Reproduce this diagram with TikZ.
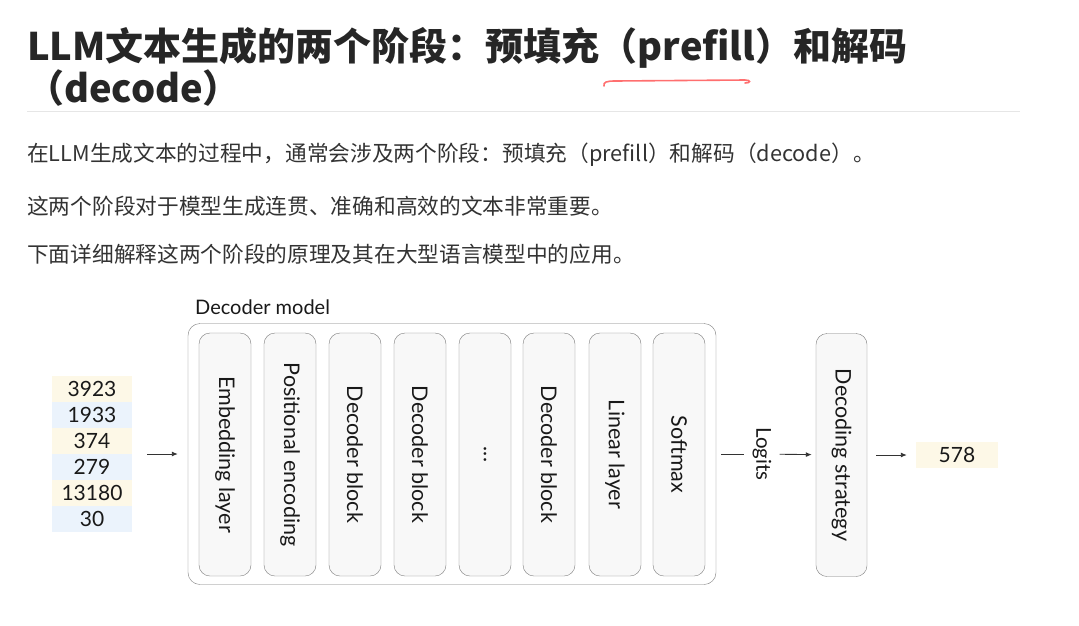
\documentclass[tikz,border=0pt]{standalone}
\usepackage{fontspec}
\newfontfamily\cjk{Noto Sans CJK SC}
\newfontfamily\gill{Lato}
\usetikzlibrary{positioning,arrows.meta}

\definecolor{tokyellow}{HTML}{FDF8E7}
\definecolor{tokblue}{HTML}{EBF3FC}
\definecolor{layerfill}{HTML}{F8F8F8}
\definecolor{edgegray}{HTML}{7C7C7C}
\definecolor{textgray}{HTML}{333333}
\definecolor{rulegray}{HTML}{E6E6E6}

\tikzset{
  heading/.style={anchor=base west, inner sep=0pt, text=black!85, font=\cjk\bfseries\fontsize{38}{42}\selectfont},
  para/.style={anchor=base west, inner sep=0pt, text=textgray, font=\cjk\fontsize{21.7}{26}\selectfont},
  layer/.style={draw=edgegray, fill=layerfill, rotate=-90, rounded corners=11pt,
    minimum width=243pt, minimum height=52pt, inner sep=0pt, text=black!90,
    font=\gill\fontsize{21.5}{24}\selectfont},
  token/.style={minimum width=80pt, minimum height=26pt, inner sep=0pt, text=black!90,
    font=\gill\fontsize{21}{24}\selectfont},
  flow/.style={-{Latex[length=6pt,width=5pt]}, black!80, line width=0.9pt}
}

\begin{document}
\begin{tikzpicture}[x=1pt,y=-1pt]
  \useasboundingbox[fill=white] (0,0) rectangle (1079,625);

  % heading and text
  \node[heading] (title1) at (27,60) {LLM文本生成的两个阶段：预填充（prefill）和解码};
  \node[heading] (title2) at (26,102) {（decode）};
  \draw[rulegray, line width=1pt] (27,111) -- (1020,111);
  \draw[red!75, line width=1.6pt, opacity=0.75, line cap=round]
    (604,86) .. controls (603,82) and (607,81) .. (615,81) -- (745,80) .. controls (751,80) and (751,83) .. (745,83);

  \node[para] (p1) at (27,161) {在LLM生成文本的过程中，通常会涉及两个阶段：预填充（prefill）和解码（decode）。};
  \node[para] (p2) at (27,214) {这两个阶段对于模型生成连贯、准确和高效的文本非常重要。};
  \node[para] (p3) at (27,262) {下面详细解释这两个阶段的原理及其在大型语言模型中的应用。};

  % input tokens
  \foreach \val/\bg [count=\i] in {3923/tokyellow,1933/tokblue,374/tokyellow,279/tokblue,13180/tokyellow,30/tokblue}
    \node[token, fill=\bg] (t\i) at (92,363+26*\i) {\val};
  \coordinate (tokens) at (132,454);

  % decoder model
  \node[anchor=base west, inner sep=0pt, text=black!90, font=\gill\fontsize{20}{23}\selectfont] (modellabel) at (195,314) {Decoder model};
  \node[draw=edgegray, rounded corners=12pt, minimum width=528pt, minimum height=261pt, inner sep=0pt] (model) at (452,454) {};

  \node[layer] (embed) at (225,454.5) {Embedding layer};
  \node[layer] (posenc) at (290,454.5) {Positional encoding};
  \node[layer] (dec1) at (355,454.5) {Decoder block};
  \node[layer] (dec2) at (420,454.5) {Decoder block};
  \node[layer] (dots) at (485,454.5) {...};
  \node[layer] (decn) at (549,454.5) {Decoder block};
  \node[layer] (linear) at (615,454.5) {Linear layer};
  \node[layer] (softmax) at (679,454.5) {Softmax};

  % decoding
  \node[rotate=-90, inner sep=8pt, text=black!90, font=\gill\fontsize{20.5}{23}\selectfont] (logits) at (762,454) {Logits};
  \node[layer, minimum height=51pt] (strategy) at (841.5,455) {Decoding strategy};
  \node[token, fill=tokyellow, minimum width=82pt] (out) at (957,455) {578};

  \draw[flow, shorten <=15pt, shorten >=10pt] (tokens) -- (model.west);
  \draw[black!80, line width=0.9pt, shorten <=5pt] (model.east) -- (logits);
  \draw[flow, shorten >=4pt] (logits) -- (strategy);
  \draw[flow, shorten <=9pt, shorten >=9pt] (strategy) -- (out);
\end{tikzpicture}
\end{document}
